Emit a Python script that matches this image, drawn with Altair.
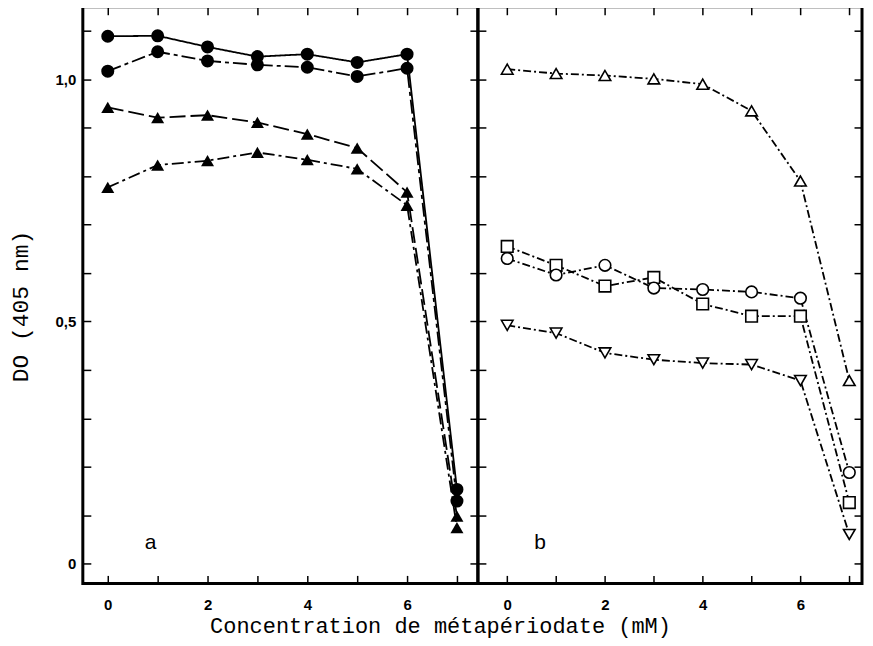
import altair as alt
import pandas as pd

# ---- data ----
x_vals = [0, 1, 2, 3, 4, 5, 6, 7]

# panel a (filled markers)
a_names = ["a_circ_solid", "a_circ_dash", "a_tri_dash", "a_tri_dashdot"]
a_circ_solid = [1.089, 1.090, 1.067, 1.047, 1.052, 1.035, 1.052, 0.153]
a_circ_dash = [1.017, 1.057, 1.038, 1.030, 1.025, 1.006, 1.023, 0.129]
a_tri_dash = [0.942, 0.921, 0.926, 0.911, 0.887, 0.858, 0.767, 0.098]
a_tri_dashdot = [0.777, 0.823, 0.832, 0.849, 0.834, 0.815, 0.740, 0.074]

# panel b (open markers)
b_names = ["b_tri_up", "b_square", "b_circle", "b_tri_down"]
b_tri_up = [1.021, 1.012, 1.008, 1.001, 0.990, 0.935, 0.790, 0.378]
b_square = [0.655, 0.616, 0.573, 0.591, 0.536, 0.511, 0.511, 0.126]
b_circle = [0.630, 0.596, 0.616, 0.569, 0.566, 0.561, 0.548, 0.188]
b_tri_down = [0.492, 0.476, 0.435, 0.421, 0.414, 0.411, 0.378, 0.060]

y_tick_values = [0, 0.1, 0.2, 0.3, 0.4, 0.5, 0.6, 0.7, 0.8, 0.9, 1.0, 1.1]
x_tick_values = [0, 1, 2, 3, 4, 5, 6, 7]

x_title = "Concentration de métapériodate (mM)"
y_title = "DO (405 nm)"

all_names = a_names + b_names
all_dashes = [[1, 0], [14, 4, 4, 4], [16, 5], [12, 4, 3, 4],
              [8, 3, 2, 3], [8, 3, 2, 3], [8, 3, 2, 3], [8, 3, 2, 3]]
all_shapes = ["circle", "circle", "triangle-up", "triangle-up",
              "triangle-up", "square", "circle", "triangle-down"]


def long_df(names, series):
    rows = []
    for n, s in zip(names, series):
        for xv, yv in zip(x_vals, s):
            rows.append({"series": n, "x": xv, "y": yv})
    return pd.DataFrame(rows)


df_a = long_df(a_names, [a_circ_solid, a_circ_dash, a_tri_dash, a_tri_dashdot])
df_b = long_df(b_names, [b_tri_up, b_square, b_circle, b_tri_down])

lab_a = pd.DataFrame({"x": [0.86], "y": [0.022], "t": ["a"]})
lab_b = pd.DataFrame({"x": [0.67], "y": [0.022], "t": ["b"]})

Y_DOMAIN = [-0.041, 1.15]
XA_DOMAIN = [-0.5, 7.42]
XB_DOMAIN = [-0.6, 7.26]

MONO = "Liberation Mono"
SANS = "Liberation Sans"

y_label_expr = ("datum.value == 0 ? '0' : (abs(datum.value - 0.5) < 0.001 ? '0,5' : "
                "(abs(datum.value - 1) < 0.001 ? '1,0' : ''))")
x_label_expr = "datum.value % 2 == 0 ? datum.value : ''"

common_tick = dict(offset=-8, tickSize=8, tickWidth=1.5, tickColor="black",
                   domain=False, grid=False)

dash_scale = alt.Scale(domain=all_names, range=all_dashes)
shape_scale = alt.Scale(domain=all_names, range=all_shapes)


def x_bottom(with_title):
    kw = dict(orient="bottom", values=x_tick_values, labelExpr=x_label_expr,
              labelPadding=14, labelFont=SANS, labelFontSize=15,
              labelFontWeight="bold", labelColor="black", **common_tick)
    if with_title:
        kw.update(title=x_title, titleX=358, titleY=50, titleAlign="center",
                  titleBaseline="middle", titleFont=MONO, titleFontSize=22,
                  titleFontWeight="normal", titleColor="black")
    else:
        kw.update(title=None)
    return alt.Axis(**kw)


def x_top():
    return alt.Axis(orient="top", values=x_tick_values, labels=False, title=None,
                    **common_tick)


def y_left(with_labels):
    kw = dict(orient="left", values=y_tick_values, **common_tick)
    if with_labels:
        kw.update(labelExpr=y_label_expr, labelPadding=7, labelFont=SANS,
                  labelFontSize=15, labelFontWeight="bold", labelColor="black",
                  title=y_title, titleX=-70, titleY=300, titleAngle=270,
                  titleAlign="center", titleBaseline="middle", titleFont=MONO,
                  titleFontSize=23, titleFontWeight="normal", titleColor="black")
    else:
        kw.update(labels=False, title=None)
    return alt.Axis(**kw)


def y_right():
    return alt.Axis(orient="right", values=y_tick_values, labels=False, title=None,
                    **common_tick)


def panel(df, filled, size, xdom, lab, left_labels, with_xtitle, width):
    xs = alt.Scale(domain=xdom, nice=False, zero=False)
    ys = alt.Scale(domain=Y_DOMAIN, nice=False, zero=False)
    lines = alt.Chart(df).mark_line(color="black", strokeWidth=1.8).encode(
        x=alt.X("x:Q", scale=xs, axis=x_bottom(with_xtitle)),
        y=alt.Y("y:Q", scale=ys, axis=y_left(left_labels)),
        strokeDash=alt.StrokeDash("series:N", scale=dash_scale, legend=None),
        detail="series:N",
        order="x:Q",
    )
    if filled:
        pts_mark = alt.Chart(df).mark_point(filled=True, color="black", opacity=1, size=size)
    else:
        pts_mark = alt.Chart(df).mark_point(filled=True, fill="white", stroke="black",
                                            strokeWidth=1.6, opacity=1, size=size)
    pts = pts_mark.encode(
        x=alt.X("x:Q", scale=xs, axis=x_top()),
        y=alt.Y("y:Q", scale=ys, axis=y_right()),
        shape=alt.Shape("series:N", scale=shape_scale, legend=None),
    )
    txt = alt.Chart(lab).mark_text(font=SANS, fontSize=21, color="black", align="center",
                                   baseline="bottom").encode(
        x=alt.X("x:Q", scale=xs, axis=None),
        y=alt.Y("y:Q", scale=ys, axis=None),
        text="t:N",
    )
    return alt.layer(lines, pts, txt).properties(width=width, height=578)


left = panel(df_a, True, 170, XA_DOMAIN, lab_a, True, True, 396)
right = panel(df_b, False, 135, XB_DOMAIN, lab_b, False, False, 385)

chart = alt.hconcat(left, right, spacing=0, bounds="flush").properties(
    padding={"left": 0, "top": -5, "right": 0, "bottom": 0},
    background="white",
).configure_view(stroke="black", strokeWidth=3)

chart.save("out.html", embed_options={"renderer": "svg", "actions": False})
